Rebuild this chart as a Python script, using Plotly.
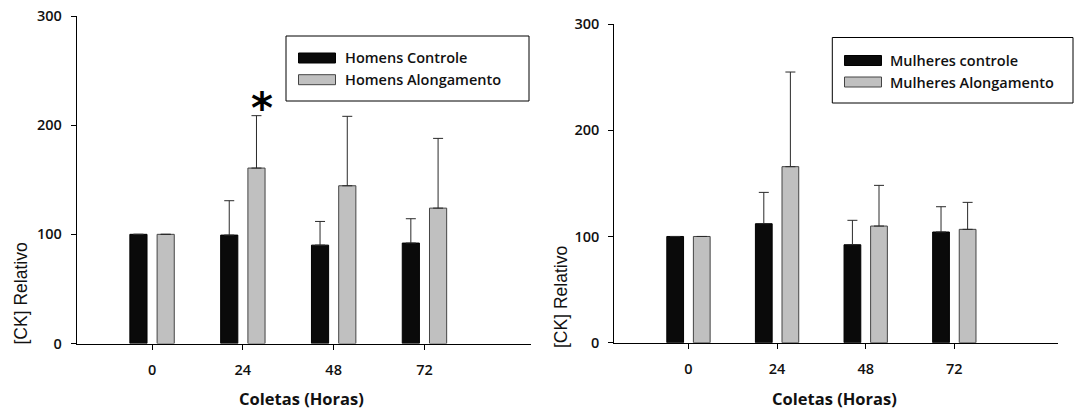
import plotly.graph_objects as go

W, H = 1074, 409

hours = ["0", "24", "48", "72"]

men_names = ["Homens Controle", "Homens Alongamento"]
men_ctrl = [100, 99.3, 90.1, 92.0]
men_ctrl_err = [None, 31.5, 21.7, 22.3]
men_str = [100, 160.7, 144.5, 124.0]
men_str_err = [None, 48.0, 63.6, 63.9]

women_names = ["Mulheres controle", "Mulheres Alongamento"]
women_ctrl = [100, 112.0, 92.2, 104.2]
women_ctrl_err = [None, 29.5, 23.0, 23.8]
women_str = [100, 165.7, 109.8, 106.7]
women_str_err = [None, 89.1, 38.3, 25.4]

y_ticks = [0, 100, 200, 300]
x_title = "Coletas (Horas)"
y_title = "[CK] Relativo"
sig_hour = "24"
sig_value = 221

FONT = "Open Sans"
TXT = "#111111"
BLACK = "#0a0a0a"
GRAY = "#c0c0c0"
ERRC = "#2a2a2a"

fig = go.Figure()


def add_bars(vals, errs, name, color, line_color, xa, ya):
    fig.add_trace(go.Bar(
        x=hours, y=vals, name=name, xaxis=xa, yaxis=ya,
        marker=dict(color=color, line=dict(color=line_color, width=1)),
        error_y=dict(type="data", symmetric=False, array=errs,
                     arrayminus=[0 if e is not None else None for e in errs],
                     color=ERRC, thickness=1, width=5),
        showlegend=False, offsetgroup=name,
    ))


add_bars(men_ctrl, men_ctrl_err, men_names[0], BLACK, "#000000", "x", "y")
add_bars(men_str, men_str_err, men_names[1], GRAY, "#444444", "x", "y")
add_bars(women_ctrl, women_ctrl_err, women_names[0], BLACK, "#000000", "x2", "y2")
add_bars(women_str, women_str_err, women_names[1], GRAY, "#444444", "x2", "y2")

axis_common = dict(showline=True, linecolor="#000000", linewidth=1, showgrid=False,
                   zeroline=False, ticks="outside", ticklen=5, tickcolor="#000000",
                   tickfont=dict(family=FONT, size=14.5, color=TXT, weight=600),
                   automargin=False)

fig.update_layout(
    width=W, height=H,
    margin=dict(l=0, r=0, t=0, b=0),
    paper_bgcolor="white", plot_bgcolor="white",
    barmode="group", bargap=0.40, bargroupgap=0.37,
    font=dict(family=FONT, color=TXT),
    xaxis=dict(domain=[76.7 / W, 530.7 / W], type="category", range=[-0.83, 4.17],
               anchor="y", ticklabelstandoff=8, **axis_common),
    yaxis=dict(domain=[1 - 343.5 / H, 1 - 16 / H], range=[0, 300], tickvals=y_ticks,
               anchor="x", ticklabelstandoff=6, **axis_common),
    xaxis2=dict(domain=[614.3 / W, 1058 / W], type="category", range=[-0.837, 4.17],
                anchor="y2", ticklabelstandoff=8, **axis_common),
    yaxis2=dict(domain=[1 - 342.7 / H, 1 - 24 / H], range=[0, 300], tickvals=y_ticks,
                anchor="x2", ticklabelstandoff=6, **axis_common),
)

# axis titles
for cx in (301, 834):
    fig.add_annotation(x=cx / W, y=1 - 398 / H, xref="paper", yref="paper",
                       text="<b>" + x_title + "</b>", showarrow=False,
                       font=dict(family=FONT, size=16.5, color=TXT),
                       xanchor="center", yanchor="middle")
for cx, cy in ((20.5, 294), (561, 297)):
    fig.add_annotation(x=cx / W, y=1 - cy / H, xref="paper", yref="paper",
                       text=y_title, showarrow=False, textangle=-90,
                       font=dict(family="Liberation Sans", size=17.5, color=TXT),
                       xanchor="center", yanchor="middle")

# significance marker above the stretching bar
fig.add_annotation(x=hours.index(sig_hour), y=sig_value, xref="x", yref="y",
                   text="<b>*</b>", showarrow=False,
                   xshift=19, yshift=-6, font=dict(family="DejaVu Sans", size=42, color="#000000"),
                   xanchor="center", yanchor="middle")


# legends (drawn manually to match the wide swatches)
def legend_box(x0, y0, x1, y1, sw_x0, sw_x1, rows, txt_x, names):
    fig.add_shape(type="rect", xref="paper", yref="paper",
                  x0=x0 / W, x1=x1 / W, y0=1 - y1 / H, y1=1 - y0 / H,
                  line=dict(color="#000000", width=1), fillcolor="white", layer="above")
    for (ry, name, fill, lc) in zip(rows, names, [BLACK, GRAY], ["#000000", "#444444"]):
        fig.add_shape(type="rect", xref="paper", yref="paper",
                      x0=sw_x0 / W, x1=sw_x1 / W, y0=1 - (ry + 5) / H, y1=1 - (ry - 5) / H,
                      line=dict(color=lc, width=1), fillcolor=fill, layer="above")
        fig.add_annotation(x=txt_x / W, y=1 - ry / H, xref="paper", yref="paper",
                           text=name, showarrow=False, xanchor="left", yanchor="middle",
                           font=dict(family=FONT, size=14.5, color=TXT, weight=600))


legend_box(286, 36, 529, 101, 298.5, 335.5, (58, 79.7), 343, men_names)
legend_box(832.3, 37.5, 1073, 103, 844.5, 881.5, (60.5, 82), 888, women_names)

fig.write_html("out.html", config={"displayModeBar": False},
               post_script="document.body.style.margin='0';")
